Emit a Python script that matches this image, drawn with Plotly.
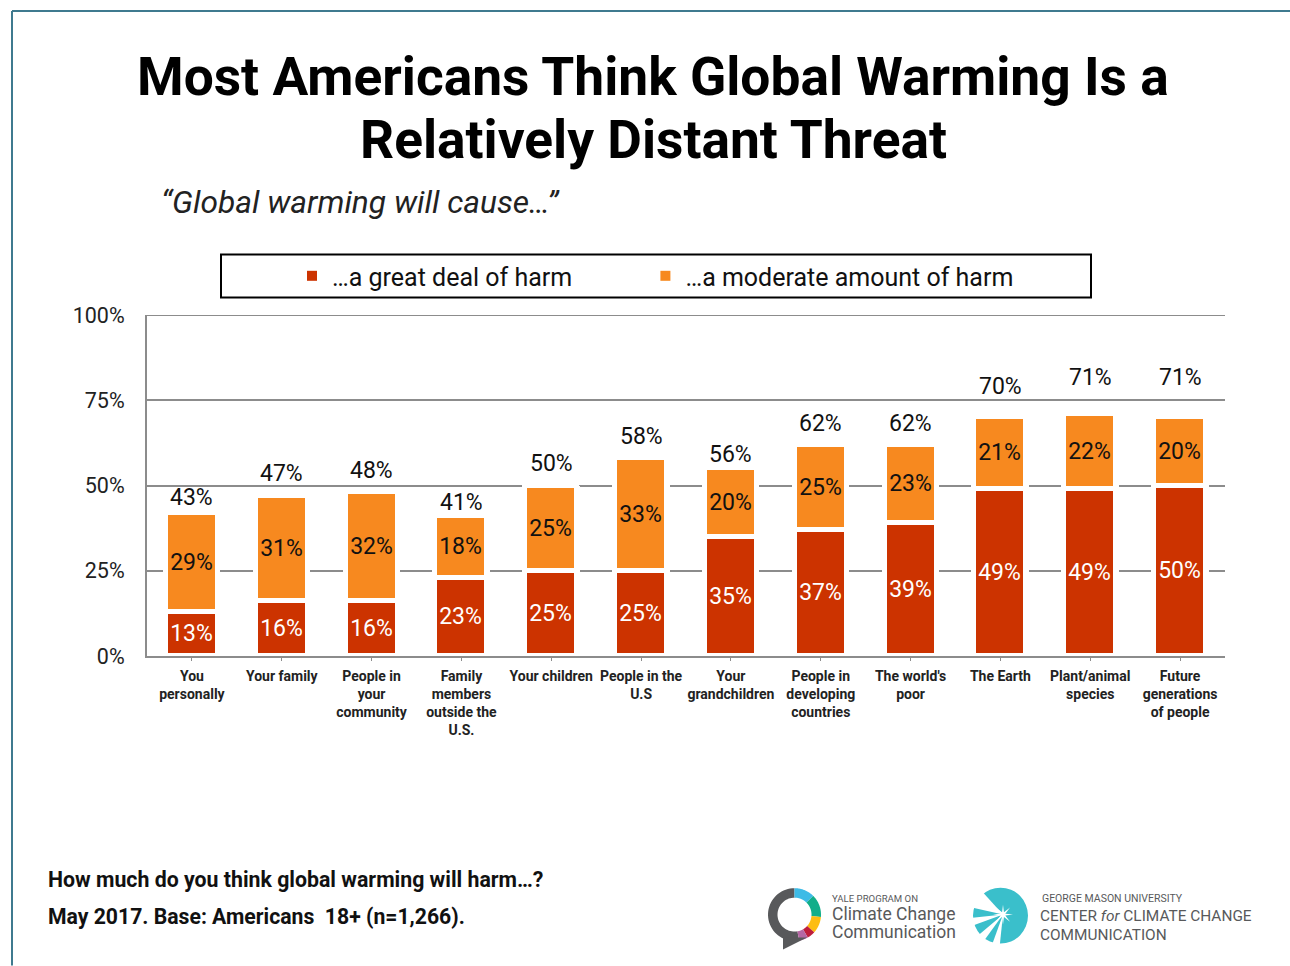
import numpy as np
import plotly.graph_objects as go

categories = ["<b>You</b><br><b>personally</b>", "<b>Your family</b>", "<b>People in</b><br><b>your</b><br><b>community</b>",
              "<b>Family</b><br><b>members</b><br><b>outside the</b><br><b>U.S.</b>", "<b>Your children</b>",
              "<b>People in the</b><br><b>U.S</b>",
              "<b>Your</b><br><b>grandchildren</b>", "<b>People in</b><br><b>developing</b><br><b>countries</b>",
              "<b>The world's</b><br><b>poor</b>",
              "<b>The Earth</b>", "<b>Plant/animal</b><br><b>species</b>", "<b>Future</b><br><b>generations</b><br><b>of people</b>"]
great_deal = [13, 16, 16, 23, 25, 25, 35, 37, 39, 49, 49, 50]
moderate = [29, 31, 32, 18, 25, 33, 20, 25, 23, 21, 22, 20]
total_labels = [43, 47, 48, 41, 50, 58, 56, 62, 62, 70, 71, 71]
total_label_shift = [0, 7, 6, -2, 7, 6, -2, 6, 6, 15, 21, 24]

W, H = 1290, 966
L, R, T, B = 147, 1225, 314.5, 656
RED, ORANGE, GRID = "#CC3300", "#F7891F", "#8C8C8C"
FONT = "Roboto"

def px(x):
    return (x - L) / (R - L)

def py(y):
    return (B - y) / (B - T)

def box(x0, y0, x1, y1, **kw):
    return dict(type="rect", xref="paper", yref="paper", x0=px(x0), x1=px(x1), y0=py(y0), y1=py(y1), **kw)

def path_shape(points, color):
    d = "M" + "L".join(f"{px(a):.5f},{py(b):.5f}" for a, b in points) + "Z"
    return dict(type="path", xref="paper", yref="paper", path=d, fillcolor=color, line_width=0, layer="above")

def arc(cx, cy, r0, r1, a0, a1, color):
    t = np.radians(np.linspace(a0, a1, 40))
    outer = [(cx + r1 * np.sin(v), cy - r1 * np.cos(v)) for v in t]
    inner = [(cx + r0 * np.sin(v), cy - r0 * np.cos(v)) for v in t[::-1]]
    return path_shape(outer + inner, color)

def wedge(cx, cy, r, a0, a1, color="white"):
    t = np.radians(np.linspace(a0, a1, 8))
    return path_shape([(cx, cy)] + [(cx + r * np.sin(v), cy - r * np.cos(v)) for v in t], color)

def star(cx, cy, r0, r1, n, color="white"):
    t = np.radians(np.arange(2 * n) * 180 / n)
    rr = [r1 if i % 2 == 0 else r0 for i in range(2 * n)]
    return path_shape([(cx + r * np.sin(v), cy - r * np.cos(v)) for r, v in zip(rr, t)], color)

def note(x, y, text, size, color="#111111", anchor="left", **kw):
    return dict(xref="paper", yref="paper", x=px(x), y=py(y), text=text, showarrow=False,
                xanchor=anchor, yanchor="middle", font=dict(family=FONT, size=size, color=color), **kw)

fig = go.Figure()
totals = [a + b for a, b in zip(great_deal, moderate)]
fig.add_bar(x=categories, y=totals, width=0.635, marker=dict(color="white", line_width=0),
            showlegend=False, hoverinfo="skip")
fig.add_bar(x=categories, y=great_deal, width=0.58, showlegend=False,
            marker=dict(color=RED, line=dict(color="white", width=5)),
            text=[f"{v}%" for v in great_deal], textposition="inside", insidetextanchor="middle",
            textangle=0, constraintext="none", insidetextfont=dict(family=FONT, size=23, color="white"))
fig.add_bar(x=categories, y=moderate, base=great_deal, width=0.58, showlegend=False,
            marker=dict(color=ORANGE, line=dict(color="white", width=5)),
            text=[f"{v}%" for v in moderate], textposition="inside", insidetextanchor="middle",
            textangle=0, constraintext="none", insidetextfont=dict(family=FONT, size=23, color="#111111"))
legend_pad = "\u00a0" * 11
for name, color in (("…a great deal of harm" + legend_pad, RED), ("…a moderate amount of harm", ORANGE)):
    fig.add_scatter(x=[None], y=[None], mode="markers", name=name,
                    marker=dict(symbol="square", size=10, color=color))

annotations = [
    dict(x=c, y=t, text=f"{lab}%", showarrow=False, yanchor="bottom", yshift=s,
         font=dict(family=FONT, size=23, color="#111111"))
    for c, t, lab, s in zip(categories, totals, total_labels, total_label_shift)
]
annotations += [
    note(653, 76, "<b>Most Americans Think Global Warming Is a</b>", 53.3, "#000000", "center"),
    note(653, 139, "<b>Relatively Distant Threat</b>", 53.3, "#000000", "center"),
    note(159, 202, "<i>“Global warming will cause…”</i>", 31.7, "#222222"),
    note(46, 880, "<b>How much do you think global warming will harm…?</b>", 21.3),
    note(46, 917, "<b>May 2017. Base: Americans  18+ (n=1,266).</b>", 21.2),
    note(830, 899, "YALE PROGRAM ON", 9.6, "#58595B"),
    note(830, 914, "Climate Change", 17.5, "#58595B"),
    note(830, 932, "Communication", 17.5, "#58595B"),
    note(1040, 899, "GEORGE MASON UNIVERSITY", 10.5, "#58595B"),
    note(1038, 916, "CENTER <i>for</i> CLIMATE CHANGE", 15.4, "#58595B"),
    note(1038, 935, "COMMUNICATION", 15.4, "#58595B"),
]

cx, cy = 794.5, 915
sx, sy = 1003, 915
shapes = [
    dict(type="line", xref="paper", yref="y", x0=0, x1=1, y0=100, y1=100, layer="below",
         line=dict(color=GRID, width=2)),
    dict(type="line", xref="paper", yref="paper", x0=px(12), x1=px(12), y0=py(10), y1=py(966),
         line=dict(color="#3F7A8F", width=2)),
    dict(type="line", xref="paper", yref="paper", x0=px(12), x1=px(1290), y0=py(10), y1=py(10),
         line=dict(color="#3F7A8F", width=2)),
    box(221, 254, 1091, 297, line=dict(color="#000000", width=2), fillcolor="rgba(0,0,0,0)"),
    arc(cx, cy, 17, 26.5, 170, 360, "#58595B"),
    arc(cx, cy, 17, 26.5, 0, 45, "#3DBBE6"),
    arc(cx, cy, 17, 26.5, 45, 95, "#12AE8A"),
    arc(cx, cy, 17, 26.5, 95, 132, "#FDBD13"),
    arc(cx, cy, 17, 26.5, 132, 150, "#BE1E3C"),
    arc(cx, cy, 17, 26.5, 150, 170, "#B567A4"),
    path_shape([(783, 938), (807, 938), (783, 950)], "#58595B"),
    dict(type="circle", xref="paper", yref="paper", x0=px(973), x1=px(1028), y0=py(888), y1=py(944),
         fillcolor="#3ABFCB", line_width=0, layer="above"),
    wedge(sx, sy, 40, 283, 318),
    wedge(sx, sy, 40, 250, 264),
    wedge(sx, sy, 40, 216, 230),
    wedge(sx, sy, 40, 186, 200),
    star(sx, sy, 2.5, 10, 8),
]

fig.update_layout(
    width=W, height=H, autosize=False, barmode="overlay", bargap=0,
    paper_bgcolor="white", plot_bgcolor="white",
    margin=dict(l=L, r=W - R, t=T, b=H - B, pad=0),
    font=dict(family=FONT, color="#111111"),
    xaxis=dict(type="category", tickangle=0, ticks="outside", ticklen=3, tickcolor=GRID, tickwidth=1,
               showline=True, linecolor=GRID, linewidth=2, showgrid=False, ticklabelstandoff=3,
               tickfont=dict(family=FONT, size=14, color="#222222"), automargin=False),
    yaxis=dict(range=[0, 100], tickvals=[0, 25, 50, 75, 100], ticktext=["0%", "25%", "50%", "75%", "100%"],
               showline=True, linecolor=GRID, linewidth=2, showgrid=True, gridcolor=GRID, gridwidth=2,
               zeroline=False, ticks="", ticklabelstandoff=16,
               tickfont=dict(family=FONT, size=21.5, color="#222222"), automargin=False),
    legend=dict(orientation="h", x=px(292), y=py(275.5), xanchor="left", yanchor="middle",
                bgcolor="rgba(0,0,0,0)",
                font=dict(family=FONT, size=25, color="#111111"), itemclick=False, itemdoubleclick=False),
    annotations=annotations, shapes=shapes,
    hovermode=False,
)
fig.write_html("out.html", config=dict(displayModeBar=False),
               post_script="document.body.style.margin='0';document.documentElement.style.overflow='hidden';")
